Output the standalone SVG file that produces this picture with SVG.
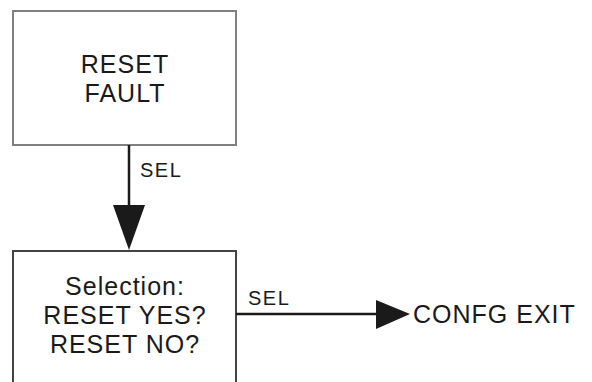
<svg xmlns="http://www.w3.org/2000/svg" width="592" height="382" viewBox="0 0 592 382">
<style>
.t{font-family:"Liberation Sans",Arial,sans-serif;font-size:25px;fill:#1a1a1a;letter-spacing:1px}
.l{font-family:"Liberation Sans",Arial,sans-serif;font-size:20px;fill:#1a1a1a;letter-spacing:1.5px}
.ln{stroke:#1a1a1a;stroke-width:2.5;fill:none}
.ah{fill:#1a1a1a}
</style>
<rect width="592" height="382" fill="#fff"/>
<g id="reset-fault">
<rect x="13" y="11" width="223" height="134" fill="#fff" stroke="#808080" stroke-width="2"/>
<text class="t" x="125" y="73" text-anchor="middle">RESET</text>
<text class="t" x="125" y="102" text-anchor="middle">FAULT</text>
</g>
<g id="selection">
<path d="M13 382 V251 H236 V382" fill="#fff" stroke="#444" stroke-width="2"/>
<text class="t" x="125" y="295" text-anchor="middle">Selection:</text>
<text class="t" x="125" y="324" text-anchor="middle">RESET YES?</text>
<text class="t" x="125" y="353" text-anchor="middle">RESET NO?</text>
</g>
<g id="confg-exit">
<text class="t" x="413" y="323">CONFG EXIT</text>
</g>
<g id="connectors">
<line class="ln" x1="129" y1="145" x2="129" y2="208"/>
<polygon class="ah" points="113,205 145,205 129,250"/>
<text class="l" x="140" y="177">SEL</text>
<line class="ln" x1="236" y1="314" x2="380" y2="314"/>
<polygon class="ah" points="376,300 410,314 376,329"/>
<text class="l" x="248" y="305">SEL</text>
</g>
</svg>
